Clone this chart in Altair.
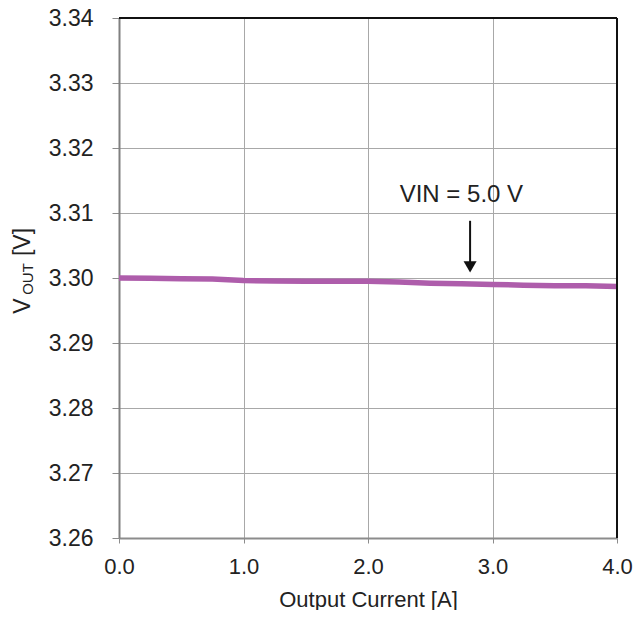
import altair as alt
import pandas as pd

# Data
current_a = [0.0, 0.25, 0.5, 0.75, 1.0, 1.25, 1.5, 1.75, 2.0, 2.25, 2.5, 2.75, 3.0, 3.25, 3.5, 3.75, 4.0]
vout_v = [3.3000, 3.29995, 3.2999, 3.29985, 3.2996, 3.29955, 3.2995, 3.29950, 3.2995, 3.2994, 3.2992, 3.2991, 3.2990, 3.2989, 3.2988, 3.2988, 3.2987]

x_ticks = [0.0, 1.0, 2.0, 3.0, 4.0]
y_ticks = [3.26, 3.27, 3.28, 3.29, 3.30, 3.31, 3.32, 3.33, 3.34]

annot_text = ["VIN = 5.0 V"]
annot_x = [2.75]
annot_y = [3.3128]
arrow_x = [2.82]
arrow_top = [3.3088]
arrow_tip = [3.3017]

W, H = 498, 520
TOP = 10
FONT = "Liberation Sans"
LINE_COLOR = "#AE5DAB"
GRID = "#A8A8A8"
TXT = "#222222"

df = pd.DataFrame({"I": current_a, "V": vout_v})
ann = pd.DataFrame({"x": annot_x, "y": annot_y, "t": annot_text})
arr = pd.DataFrame({"x": arrow_x, "y": arrow_top, "y2": arrow_tip})

xs = alt.Scale(domain=[0, 4], nice=False, zero=False)
ys = alt.Scale(domain=[3.26, 3.34], nice=False, zero=False)

xaxis = alt.Axis(values=x_ticks, format=".1f", title="Output Current [A]",
                 labelFontSize=22, titleFontSize=22, labelFont=FONT, titleFont=FONT,
                 labelColor=TXT, titleColor=TXT, titleFontWeight="normal",
                 labelFlush=False,
                 grid=True, gridColor=GRID, gridWidth=1,
                 domainColor="#8C8C8C", domainWidth=2, tickColor="#8C8C8C",
                 tickSize=5, labelPadding=13, titlePadding=12)
yaxis = alt.Axis(values=y_ticks, format=".2f", title=None,
                 labelFontSize=23, labelFont=FONT, labelColor=TXT,
                 grid=True, gridColor=GRID, gridWidth=1,
                 domainColor="#808080", domainWidth=2, tickColor="#8C8C8C",
                 tickSize=7, labelPadding=19)

line = alt.Chart(df).mark_line(color=LINE_COLOR, strokeWidth=5.5).encode(
    x=alt.X("I:Q", scale=xs, axis=xaxis),
    y=alt.Y("V:Q", scale=ys, axis=yaxis),
)

txt = alt.Chart(ann).mark_text(fontSize=24, font=FONT, color=TXT).encode(
    x=alt.X("x:Q", scale=xs), y=alt.Y("y:Q", scale=ys), text="t:N"
)

shaft = alt.Chart(arr).mark_rule(color="#111111", strokeWidth=2).encode(
    x=alt.X("x:Q", scale=xs), y=alt.Y("y:Q", scale=ys), y2="y2:Q"
)
head = alt.Chart(arr).mark_point(shape="triangle-down", filled=True, color="#111111",
                                 size=170, opacity=1).encode(
    x=alt.X("x:Q", scale=xs), y=alt.Y("y2:Q", scale=ys)
)

top_border = alt.Chart(ann).mark_rule(color="#111111", strokeWidth=2).encode(
    x=alt.value(0), x2=alt.value(W), y=alt.value(0)
)
right_border = alt.Chart(ann).mark_rule(color="#111111", strokeWidth=2).encode(
    x=alt.value(W), y=alt.value(0), y2=alt.value(H)
)

OFF = 8 + TOP  # page y of plot top
ytitle_v = alt.Chart(ann).mark_text(text="V", fontSize=23, font=FONT, color=TXT,
                                    angle=270, align="center", baseline="middle").encode(
    x=alt.value(-96), y=alt.value(306 - OFF)
)
ytitle_out = alt.Chart(ann).mark_text(text="OUT", fontSize=15, font=FONT, color=TXT,
                                      angle=270, align="center", baseline="middle").encode(
    x=alt.value(-91), y=alt.value(279 - OFF)
)
ytitle_unit = alt.Chart(ann).mark_text(text="[V]", fontSize=23, font=FONT, color=TXT,
                                       angle=270, align="center", baseline="middle").encode(
    x=alt.value(-96), y=alt.value(242 - OFF)
)

chart = alt.layer(line, top_border, right_border, shaft, head, txt,
                  ytitle_v, ytitle_out, ytitle_unit).properties(
    width=W, height=H,
    autosize=alt.AutoSizeParams(type="none"),
    padding={"left": 111, "top": TOP, "right": 18, "bottom": 72},
).configure_view(stroke=None).configure(background="white")

chart.save("out.html", embed_options={"renderer": "svg", "actions": False})
